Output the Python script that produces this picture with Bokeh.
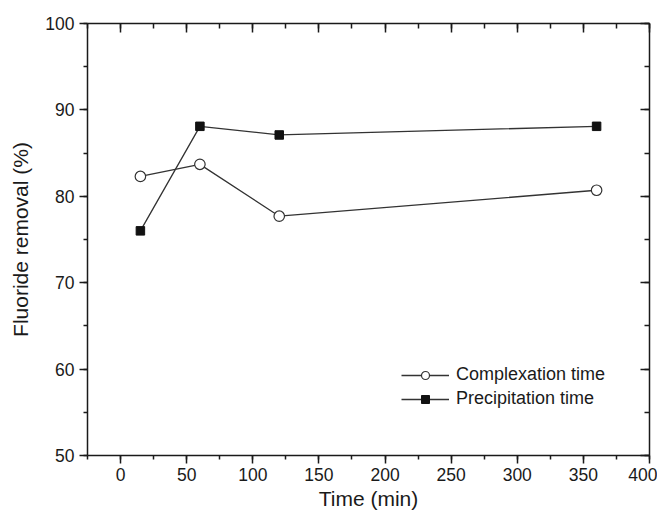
from bokeh.plotting import figure
from bokeh.models import Range1d, LinearAxis, SingleIntervalTicker, Legend, LegendItem
from bokeh.embed import file_html
from bokeh.resources import INLINE

time_min = [15, 60, 120, 360]
complexation = [82.3, 83.7, 77.7, 80.7]
precipitation = [76.0, 88.1, 87.1, 88.1]

x_ticks = [0, 50, 100, 150, 200, 250, 300, 350, 400]
y_ticks = [50, 60, 70, 80, 90, 100]

FONT = "Liberation Sans"
INK = "#1a1a1a"

p = figure(frame_width=562, frame_height=432, output_backend="svg", toolbar_location=None,
           x_range=Range1d(-25, 400), y_range=Range1d(50, 100),
           x_axis_label="Time (min)", y_axis_label="Fluoride removal (%)",
           min_border_left=87, min_border_top=23, min_border_right=8, min_border_bottom=10)
p.grid.visible = False
p.outline_line_color = None
p.background_fill_color = "white"
p.border_fill_color = "white"

bottom = p.below[0]
left = p.left[0]
bottom.ticker = SingleIntervalTicker(interval=50, num_minor_ticks=2)
left.ticker = SingleIntervalTicker(interval=10, num_minor_ticks=2)

top = LinearAxis(ticker=SingleIntervalTicker(interval=50, num_minor_ticks=2))
right = LinearAxis(ticker=SingleIntervalTicker(interval=10, num_minor_ticks=2))
p.add_layout(top, "above")
p.add_layout(right, "right")

for ax in [bottom, left]:
    ax.axis_line_width = 1.5
    ax.axis_line_color = INK
    ax.major_tick_line_color = INK
    ax.minor_tick_line_color = INK
    ax.major_tick_line_width = 1.5
    ax.minor_tick_line_width = 1.5
    ax.major_tick_out = 8
    ax.major_tick_in = 0
    ax.minor_tick_out = 4
    ax.minor_tick_in = 0
    ax.major_label_text_font = FONT
    ax.major_label_text_font_size = "17.5px"
    ax.major_label_text_color = INK
    ax.axis_label_text_font = FONT
    ax.axis_label_text_font_size = "21px"
    ax.axis_label_text_font_style = "normal"
    ax.axis_label_text_color = INK

bottom.major_label_standoff = 4
bottom.axis_label_standoff = 3
left.major_label_standoff = 5
left.axis_label_standoff = 10

for ax in [top, right]:
    ax.axis_line_width = 1.5
    ax.axis_line_color = INK
    ax.major_tick_line_color = INK
    ax.minor_tick_line_color = INK
    ax.major_tick_line_width = 1.5
    ax.minor_tick_line_width = 1.5
    ax.major_tick_out = 0
    ax.major_tick_in = 9
    ax.minor_tick_out = 0
    ax.minor_tick_in = 5
    ax.major_label_text_font_size = "0px"
    ax.major_label_text_color = None
    ax.major_label_standoff = 0

lc = p.line(time_min, complexation, line_color="#333333", line_width=1.3)
mc = p.scatter(time_min, complexation, marker="circle", size=10.5, fill_color="white",
               line_color="#333333", line_width=1.2)
lp = p.line(time_min, precipitation, line_color="#333333", line_width=1.3)
mp = p.scatter(time_min, precipitation, marker="square", size=8.5, fill_color="#111111",
               line_color="#111111", line_width=1)

legend = Legend(items=[LegendItem(label="Complexation time", renderers=[lc, mc]),
                       LegendItem(label="Precipitation time", renderers=[lp, mp])],
                location=(314, 46))
legend.border_line_color = None
legend.background_fill_alpha = 0
legend.glyph_width = 48
legend.glyph_height = 20
legend.label_standoff = 7
legend.spacing = 3
legend.padding = 10
legend.margin = 0
legend.label_text_font = FONT
legend.label_text_font_size = "18px"
legend.label_text_color = INK
p.add_layout(legend, "center")

open("out.html", "w").write(file_html(p, INLINE))
